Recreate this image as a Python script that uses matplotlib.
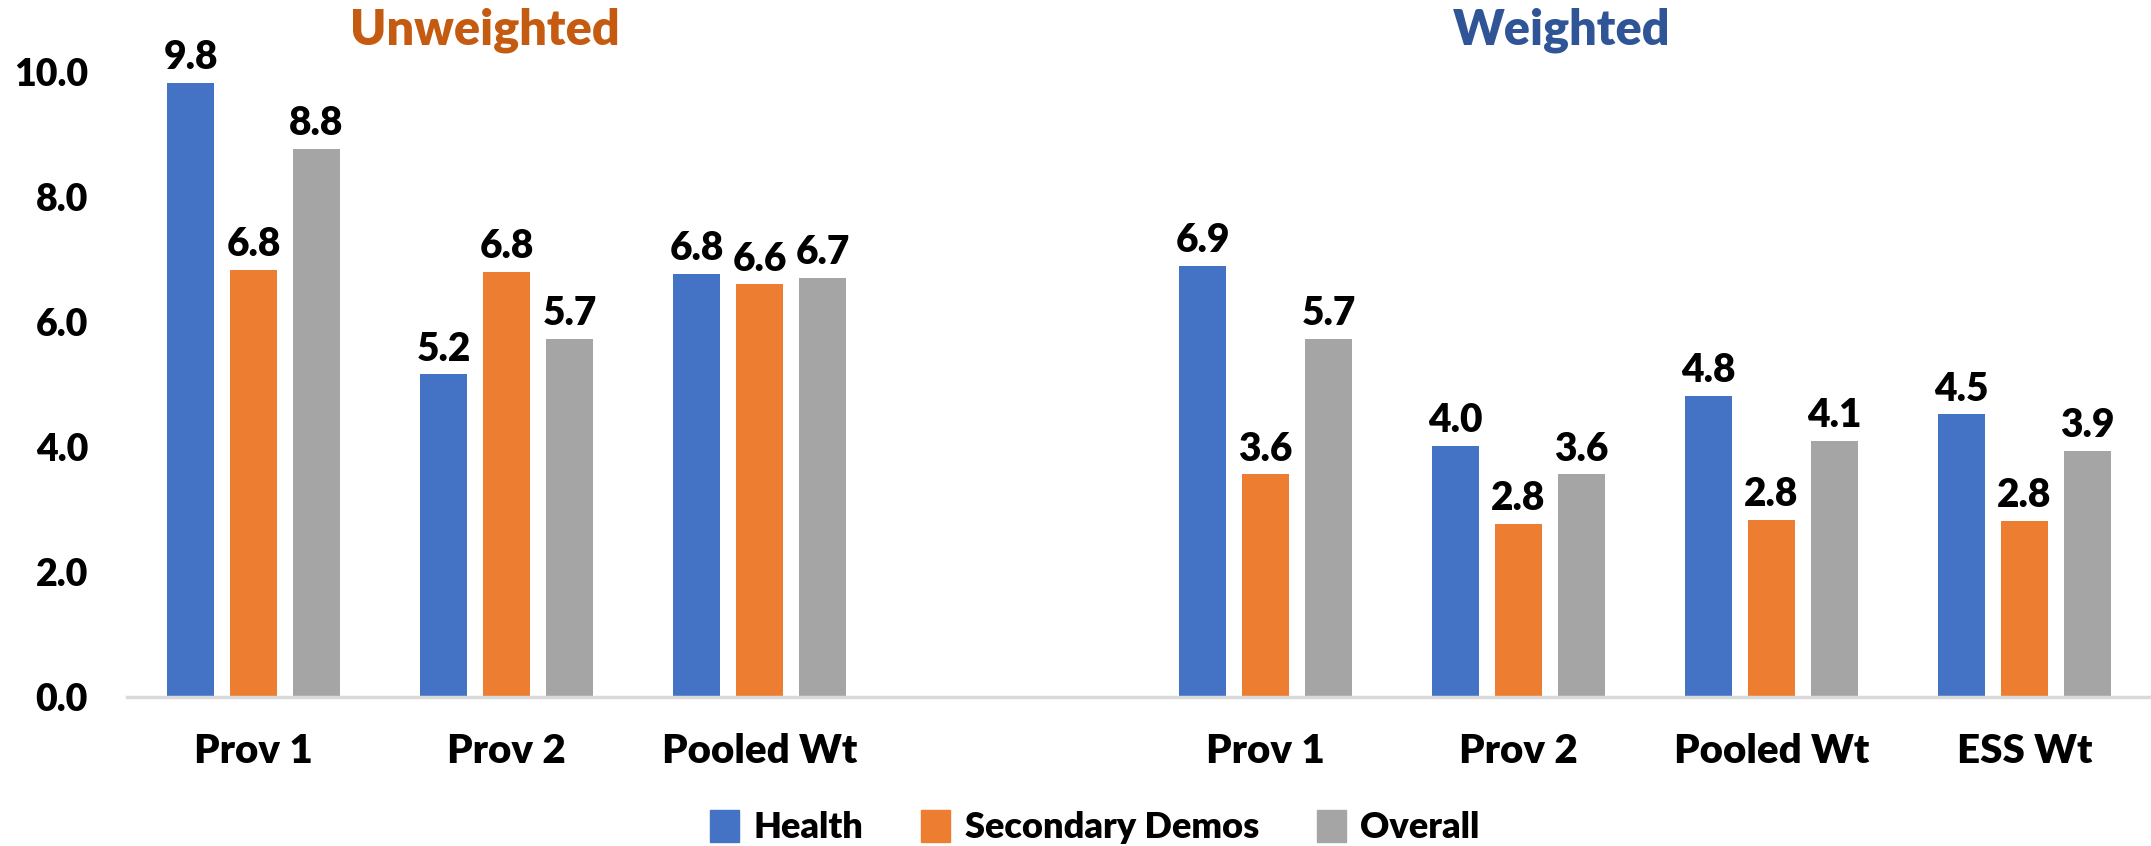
import numpy as np
import matplotlib.pyplot as plt
from matplotlib.patches import Patch

categories = ["Prov 1", "Prov 2", "Pooled Wt", "", "Prov 1", "Prov 2", "Pooled Wt", "ESS Wt"]
health = [9.82, 5.16, 6.77, None, 6.90, 4.02, 4.81, 4.52]
secondary = [6.83, 6.80, 6.60, None, 3.56, 2.77, 2.83, 2.81]
overall = [8.77, 5.73, 6.70, None, 5.73, 3.56, 4.10, 3.93]
series_names = ["Health", "Secondary Demos", "Overall"]
colors = ["#4472C4", "#ED7D31", "#A5A5A5"]

plt.rcParams['font.family'] = ['Lato', 'DejaVu Sans']
plt.rcParams['font.weight'] = 'heavy'

fig = plt.figure(figsize=(21.51, 8.46), dpi=100)
ax = fig.add_axes([127 / 2151, 1 - 697 / 846, 1 - 127 / 2151, (697 - 72) / 846])

x = np.arange(len(categories))
width = 0.185
step = 0.249
for k, (vals, col) in enumerate(zip([health, secondary, overall], colors)):
    xs = [xi + (k - 1) * step for xi, v in zip(x, vals) if v is not None]
    vs = [v for v in vals if v is not None]
    bars = ax.bar(xs, vs, width=width, color=col, zorder=2)
    for b, v in zip(bars, vs):
        ax.annotate(f"{v:.1f}", (b.get_x() + b.get_width() / 2, v),
                    xytext=(0, 5), textcoords="offset points",
                    ha="center", va="bottom", fontsize=28, fontweight="heavy")

ax.set_xlim(-0.5, 7.5)
ax.set_ylim(0, 10)
ax.set_yticks(np.arange(0, 10.1, 2))
ax.set_yticklabels([f"{t:.1f}" for t in np.arange(0, 10.1, 2)])
ax.set_xticks(x)
ax.set_xticklabels(categories)
ax.tick_params(axis="x", length=0, labelsize=29, pad=26)
ax.tick_params(axis="y", length=0, labelsize=27, pad=28)
for s in ["top", "right", "left"]:
    ax.spines[s].set_visible(False)
ax.spines["bottom"].set_color("#D9D9D9")
ax.spines["bottom"].set_linewidth(2.5)

fig.text(485 / 2151, 1 - 30 / 846, "Unweighted", color="#C55A11", fontsize=35,
         fontweight="heavy", ha="center", va="center")
fig.text(1562 / 2151, 1 - 30 / 846, "Weighted", color="#2F5597", fontsize=35,
         fontweight="heavy", ha="center", va="center")

handles = [Patch(color=c, label=n) for c, n in zip(colors, series_names)]
fig.legend(handles=handles, loc="center", bbox_to_anchor=(1095 / 2151, 1 - 827 / 846),
           ncol=3, frameon=False, prop={"size": 26, "weight": "heavy"},
           handlelength=0.8, handleheight=1.0, handletextpad=0.4, columnspacing=1.6)

fig.savefig("out.png", dpi=100)
